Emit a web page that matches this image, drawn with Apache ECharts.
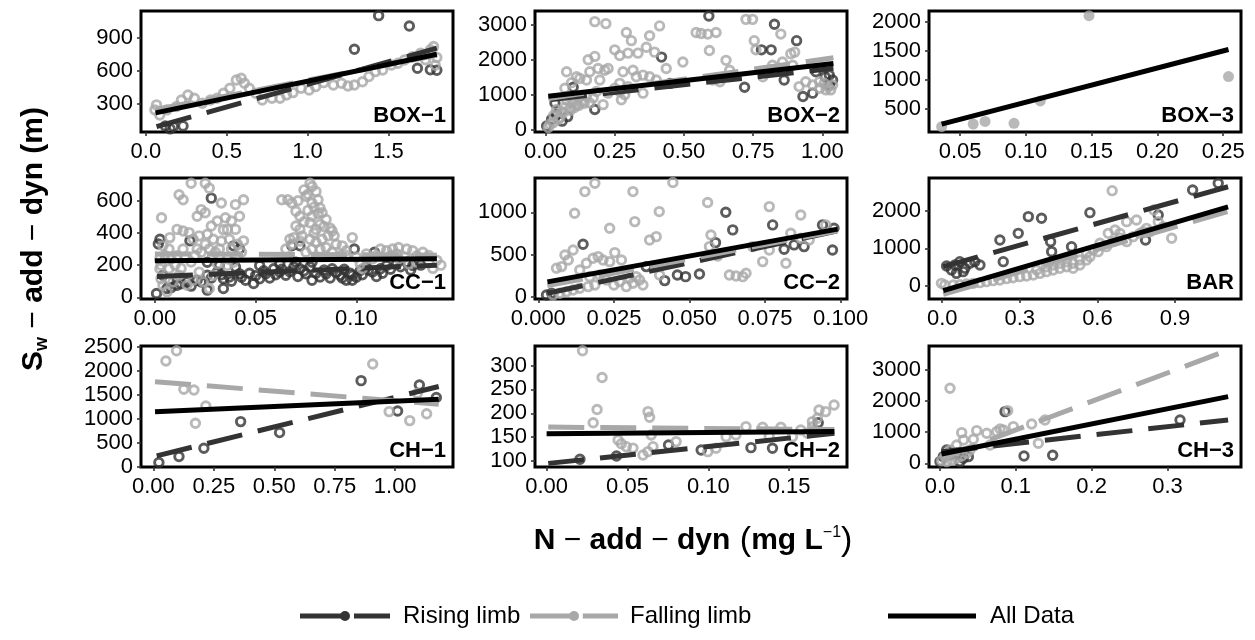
<!DOCTYPE html>
<html>
<head>
<meta charset="utf-8">
<script src="https://cdn.jsdelivr.net/npm/echarts@6/dist/echarts.min.js"></script>
<style>
  html, body { margin: 0; padding: 0; background: #fff; }
  #chart { width: 1255px; height: 640px; }
</style>
</head>
<body>
<div id="chart"></div>
<script>
// ---- panel titles, axis limits and tick labels ----
const panelNames = ['BOX−1', 'BOX−2', 'BOX−3', 'CC−1', 'CC−2', 'BAR', 'CH−1', 'CH−2', 'CH−3'];
const xLimits = [[-0.03, 1.9], [-0.038, 1.089], [0.0264, 0.2635], [-0.0069, 0.148], [-0.0011, 0.1021], [-0.051, 1.155], [-0.051, 1.239], [-0.0072, 0.1858], [-0.0145, 0.397]];
const yLimits = [[47, 1141], [-60, 3398], [107, 2193], [-10, 741], [-28, 1406], [-345, 2867], [-10, 2515], [87.4, 341], [-119, 3772]];
const xTicks = [[0, 0.5, 1.0, 1.5], [0, 0.25, 0.5, 0.75, 1.0], [0.05, 0.10, 0.15, 0.20, 0.25], [0, 0.05, 0.10], [0, 0.025, 0.05, 0.075, 0.1], [0, 0.3, 0.6, 0.9], [0, 0.25, 0.5, 0.75, 1.0], [0, 0.05, 0.10, 0.15], [0, 0.1, 0.2, 0.3]];
const xDigits = [1, 2, 2, 2, 3, 1, 2, 2, 1];
const yTicks = [[300, 600, 900], [0, 1000, 2000, 3000], [500, 1000, 1500, 2000], [0, 200, 400, 600], [0, 500, 1000], [0, 1000, 2000], [0, 500, 1000, 1500, 2000, 2500], [100, 150, 200, 250, 300], [0, 1000, 2000, 3000]];

// ---- observations: [N-add-dyn, Sw-add-dyn] ----
const box1Rising = [[0.12,102],[0.17,96],[0.23,102],[0.15,75],[1.29,795],[1.44,1099],[1.63,1005],[1.68,623],[1.76,610],[1.80,605]];
const box1Falling = [[0.056,247],[0.066,292],[0.086,201],[0.13,247],[0.19,277],[0.22,337],[0.26,382],[0.30,352],[0.35,307],[0.40,337],[0.44,352],[0.48,397],[0.52,442],[0.56,517],[0.59,533],[0.61,488],[0.64,442],[0.68,397],[0.72,337],[0.78,352],[0.83,352],[0.87,382],[0.91,403],[0.96,442],[1.01,427],[1.05,457],[1.10,493],[1.16,472],[1.21,488],[1.25,463],[1.29,472],[1.34,502],[1.38,548],[1.42,593],[1.465,608],[1.52,653],[1.56,668],[1.60,698],[1.65,728],[1.70,760],[1.73,700],[1.76,790],[1.78,820],[1.80,720],[1.79,650]];

const box2Rising = [[0.59,3253],[0.827,3019],[0.907,2550],[0.815,2288],[0.78,2288],[0.419,2081],[0.719,1219],[0.862,1425],[0.93,956],[0.965,1050],[0.977,1660],[1.025,1566],[1.037,1425],[1.025,1285],[1.01,1520],[0.45,1330],[0.178,581],[0.034,769],[0.04,440],[0.1,1219],[0.004,112],[0.022,300],[0.06,250],[0.08,380]];
const box2Falling = [[0.178,3094],[0.218,3038],[0.292,2784],[0.31,2550],[0.376,2690],[0.412,2972],[0.25,2288],[0.268,2128],[0.298,2194],[0.334,2194],[0.364,2363],[0.394,2222],[0.178,2100],[0.154,2006],[0.16,1660],[0.19,1753],[0.214,1706],[0.226,1753],[0.076,1660],[0.112,1519],[0.148,1425],[0.28,1660],[0.316,1706],[0.328,1519],[0.352,1566],[0.376,1519],[0.40,1425],[0.436,1753],[0.496,1941],[0.544,2784],[0.562,2756],[0.586,2738],[0.616,2784],[0.592,2269],[0.652,1988],[0.724,3159],[0.748,3159],[0.754,2550],[0.76,2288],[0.85,2738],[0.856,1941],[0.886,2175],[0.90,2222],[0.893,1847],[0.916,1238],[0.94,1378],[0.965,1285],[0.99,1378],[1.007,1331],[1.02,1238],[1.037,1285],[1.03,1144],[1.013,1144],[0.99,1190],[0.785,1519],[0.81,1706],[0.82,1847],[0.605,1425],[0.63,1378],[0.665,1706],[0.04,581],[0.064,488],[0.088,628],[0.112,722],[0.136,816],[0.16,769],[0.076,863],[0.052,347],[0.028,206],[0.01,66],[0.016,160],[0.124,956],[0.148,956],[0.172,909],[0.184,1097],[0.208,722],[0.226,1050],[0.25,1190],[0.268,1097],[0.286,1003],[0.274,863],[0.298,1238],[0.352,1050],[0.268,1331],[0.07,1190],[0.094,1350],[0.124,1472],[0.196,1425],[0.1,769],[0.082,956],[0.03,420],[0.046,300],[0.058,520],[0.07,640],[0.09,560],[0.105,640],[0.12,700],[0.14,760]];

const box3Points = [[0.036,198],[0.06,244],[0.069,290],[0.091,256],[0.111,642],[0.148,2113],[0.254,1063]];

const cc1Rising = [[0.028,616],[0.0025,361],[0.0017,331],[0.0174,351],[0.039,320],[0.042,300],[0.068,320],[0.072,320],[0.109,280],[0.099,300],[0.0008,24],[0.006,55],[0.011,75],[0.016,96],[0.021,106],[0.026,137],[0.031,157],[0.034,116],[0.037,127],[0.042,147],[0.045,106],[0.049,86],[0.052,116],[0.055,147],[0.059,178],[0.062,157],[0.065,137],[0.069,188],[0.072,178],[0.075,147],[0.078,106],[0.082,127],[0.085,147],[0.088,178],[0.092,137],[0.095,106],[0.098,137],[0.102,167],[0.105,188],[0.108,157],[0.112,178],[0.115,198],[0.12,208],[0.125,218],[0.128,198],[0.052,198],[0.062,208],[0.040,188],[0.026,218],[0.032,198],[0.078,218],[0.07,218],[0.004,137],[0.007,106],[0.034,55],[0.026,45],[0.098,106],[0.093,120],[0.008,60],[0.013,85],[0.018,70],[0.023,95],[0.028,120],[0.033,140],[0.038,100],[0.043,125],[0.047,150],[0.05,135],[0.054,165],[0.057,120],[0.06,140],[0.063,175],[0.067,160],[0.071,130],[0.074,165],[0.077,190],[0.08,150],[0.084,170],[0.087,120],[0.09,155],[0.094,175],[0.097,150],[0.1,125],[0.103,140],[0.106,170],[0.11,130],[0.113,150],[0.117,175],[0.122,190],[0.127,170],[0.132,200]];
const cc1Falling = [[0.0033,494],[0.018,708],[0.025,708],[0.027,678],[0.012,637],[0.014,606],[0.021,504],[0.023,545],[0.025,525],[0.033,586],[0.028,443],[0.031,474],[0.035,494],[0.038,474],[0.042,504],[0.044,606],[0.040,576],[0.040,422],[0.036,422],[0.037,361],[0.044,351],[0.0074,371],[0.011,422],[0.014,412],[0.017,402],[0.019,361],[0.022,382],[0.026,392],[0.029,361],[0.004,320],[0.007,300],[0.011,259],[0.014,300],[0.021,300],[0.0025,239],[0.0025,178],[0.003,116],[0.004,75],[0.006,35],[0.007,178],[0.009,96],[0.012,137],[0.016,75],[0.019,106],[0.022,157],[0.024,96],[0.027,55],[0.029,137],[0.031,208],[0.036,239],[0.039,218],[0.032,300],[0.036,198],[0.063,606],[0.066,606],[0.068,586],[0.070,535],[0.072,504],[0.074,667],[0.077,708],[0.078,688],[0.080,657],[0.075,627],[0.078,586],[0.081,606],[0.082,555],[0.083,525],[0.078,504],[0.077,463],[0.080,422],[0.082,453],[0.085,484],[0.072,422],[0.069,371],[0.073,382],[0.077,361],[0.080,341],[0.083,361],[0.086,382],[0.088,412],[0.089,382],[0.082,300],[0.085,310],[0.078,300],[0.075,280],[0.070,443],[0.067,361],[0.098,371],[0.093,320],[0.095,290],[0.088,280],[0.092,259],[0.112,300],[0.115,290],[0.118,300],[0.121,310],[0.125,300],[0.128,290],[0.13,259],[0.117,259],[0.121,239],[0.105,239],[0.102,208],[0.108,239],[0.126,208],[0.13,218],[0.103,178],[0.133,280],[0.136,260],[0.14,230],[0.142,200],[0.138,180],[0.003,200],[0.005,260],[0.008,240],[0.01,200],[0.013,180],[0.015,250],[0.018,220],[0.02,260],[0.023,280],[0.025,330],[0.027,300],[0.03,280],[0.033,350],[0.034,420],[0.038,300],[0.041,330],[0.043,280],[0.071,600],[0.076,640],[0.079,560],[0.081,520],[0.084,440],[0.087,430],[0.076,540],[0.074,470],[0.079,400],[0.072,350],[0.068,330],[0.065,300],[0.09,330],[0.095,260],[0.1,250],[0.105,270],[0.11,260],[0.12,270],[0.124,250]];

const cc2Rising = [[0.0148,621],[0.0418,190],[0.046,257],[0.0487,237],[0.0533,269],[0.0586,640],[0.062,1000],[0.0643,791],[0.0775,850],[0.0813,561],[0.0846,613],[0.0879,593],[0.094,850],[0.0978,810],[0.0973,553],[0.0027,20],[0.0044,40],[0.0357,356]];
const cc2Falling = [[0.012,988],[0.0154,1245],[0.0187,1344],[0.0313,1245],[0.0445,1352],[0.040,1008],[0.0319,889],[0.0236,810],[0.056,1115],[0.0764,1067],[0.0868,968],[0.0368,672],[0.039,711],[0.0571,731],[0.0566,593],[0.0593,482],[0.0709,593],[0.0764,553],[0.0742,415],[0.0819,395],[0.0835,751],[0.0868,692],[0.0896,672],[0.0951,850],[0.0632,257],[0.0654,245],[0.0676,237],[0.0687,277],[0.0077,356],[0.0099,435],[0.0115,553],[0.0088,494],[0.006,336],[0.0159,395],[0.0181,455],[0.0198,474],[0.0214,435],[0.0236,415],[0.0253,522],[0.0275,435],[0.0137,316],[0.017,237],[0.0203,257],[0.0225,198],[0.025,138],[0.0269,178],[0.0291,119],[0.0313,158],[0.0335,198],[0.0346,138],[0.0324,237],[0.0302,217],[0.0187,138],[0.0165,119],[0.0137,99],[0.0115,79],[0.0093,59],[0.0071,40],[0.0049,20],[0.0401,257]];

const barRising = [[0.017,531],[0.036,425],[0.068,646],[0.049,558],[0.088,469],[0.107,602],[0.126,646],[0.146,558],[0.081,381],[0.055,336],[0.223,1221],[0.236,646],[0.294,1398],[0.333,1841],[0.384,1797],[0.419,1177],[0.423,912],[0.5,1044],[0.571,1947],[0.786,1221],[0.835,1885],[0.968,2549],[1.067,2726]];
const barFalling = [[0.657,2531],[0.818,2018],[0.887,1266],[0.751,1752],[0.713,1708],[0.668,1487],[0.642,1398],[0.687,1398],[0.713,1177],[0.738,1310],[0.764,1398],[0.79,1531],[0.803,1443],[0.61,1133],[0.584,956],[0.558,867],[0.532,690],[0.506,602],[0.481,513],[0.455,469],[0.429,425],[0.403,381],[0.378,336],[0.352,292],[0.326,266],[0.3,248],[0.274,221],[0.249,195],[0.223,159],[0.197,142],[0.171,115],[0.146,89],[0.12,71],[0.094,53],[0.068,35],[0.043,27],[0.01,27],[-0.003,71],[0.532,558],[0.558,690],[0.481,646],[0.455,602],[0.403,513],[0.365,425],[0.506,469],[0.429,558],[0.571,779],[0.603,912],[0.635,1044],[0.661,1177],[0.687,1266],[0.777,1443],[0.835,1708],[0.854,1575]];

const ch1Rising = [[0.023,83],[0.106,208],[0.209,382],[0.361,937],[0.522,708],[0.859,1792],[1.01,1160],[1.1,1701],[1.17,1440]];
const ch1Falling = [[0.052,2201],[0.096,2417],[0.126,1611],[0.168,1597],[0.174,903],[0.217,1264],[0.907,2139],[0.975,1146],[1.06,958],[1.092,1528],[1.13,1100]];

const ch2Rising = [[0.0206,103.5],[0.0432,110.5],[0.0754,133.6],[0.0956,123],[0.1264,128],[0.1397,126.6],[0.168,180]];
const ch2Falling = [[0.0222,331],[0.0343,275],[0.0312,208],[0.0288,180],[0.0442,144],[0.0462,136],[0.0493,130],[0.0534,127],[0.0627,203.5],[0.0637,191.6],[0.0647,154.5],[0.0658,130],[0.0627,119.6],[0.0596,112.6],[0.0801,140.6],[0.0997,119.6],[0.1048,126.6],[0.111,151],[0.1171,154.5],[0.1233,172],[0.1336,170.6],[0.1449,170.6],[0.1572,165],[0.1644,182.5],[0.1675,189.5],[0.1685,207],[0.1726,203.5],[0.1778,217.5],[0.1613,158],[0.1521,151],[0.1377,151],[0.1644,172]];

const ch3Rising = [[0.0858,1661],[0.1108,236],[0.1486,257],[0.3166,1393],[0.0088,429],[0.0044,214],[0.0132,268],[0.022,321],[0.0308,161],[0.0374,214],[0,54],[0.0264,54]];
const ch3Falling = [[0.0132,2411],[0.0893,1693],[0.1385,1393],[0.1209,1264],[0.0967,1179],[0.0792,1104],[0.0616,964],[0.0484,1050],[0.0286,986],[0.1297,643],[0.066,589],[0.044,771],[0.031,750],[0.022,589],[0.0132,429],[0.0066,214],[0.0022,86],[0.0088,54],[0.0154,107],[0.022,161],[0.0286,236],[0.0352,321],[0.0396,429],[0.0748,1018],[0.0836,1071]];

// ---- fitted regression lines: [[x start, y start], [x end, y end]] ----
const risingFits = [[[0.066,96],[1.8,805]], [[0.02,870],[1.04,1760]], null, [[0.001,130],[0.14,200]], [[0.003,40],[0.099,780]], [[0.004,515],[1.105,2635]], [[0.014,222],[1.18,1670]], [[0.001,95],[0.178,158]], [[0.002,370],[0.38,1393]]];
const fallingFits = [[[0.06,250],[1.8,740]], [[0.01,900],[1.04,2060]], null, [[0.0,270],[0.14,262]], [[0.003,130],[0.099,780]], [[0.004,-220],[1.105,1980]], [[0.007,1771],[1.18,1300]], [[0.001,171],[0.178,166]], [[0.002,175],[0.38,3640]]];
const allFits = [[[0.06,220],[1.8,750]], [[0.01,960],[1.04,1900]], [[0.036,244],[0.254,1529]], [[0.0,228],[0.14,240]], [[0.003,175],[0.099,800]], [[0.004,-120],[1.105,2100]], [[0.007,1145],[1.18,1405]], [[0.0,157],[0.178,162]], [[0.002,300],[0.38,2143]]];

const risingPoints = [box1Rising, box2Rising, null, cc1Rising, cc2Rising, barRising, ch1Rising, ch2Rising, ch3Rising];
const fallingPoints = [box1Falling, box2Falling, null, cc1Falling, cc2Falling, barFalling, ch1Falling, ch2Falling, ch3Falling];
const filledPoints = [null, null, box3Points, null, null, null, null, null, null];

// ---- layout & style ----
const COL_LEFT = [141, 535, 929];
const ROW_TOP = [11, 178, 346];
const PANEL_W = 312, PANEL_H = 121;
const DARK = '#333333', LIGHT = '#a8a8a8';
const FONT = '"Liberation Sans", Arial, Helvetica, sans-serif';
const DASH = [36, 16];
const TICK_FONT = 22;

const grids = [], xAxes = [], yAxes = [], series = [], graphics = [];

panelNames.forEach((name, i) => {
  const left = COL_LEFT[i % 3], top = ROW_TOP[Math.floor(i / 3)];
  grids.push({ left, top, width: PANEL_W, height: PANEL_H, show: true, borderColor: '#000', borderWidth: 3, backgroundColor: 'transparent' });
  const tickStyle = { show: true, length: 4, lineStyle: { color: '#333', width: 1.6 } };
  xAxes.push({
    gridIndex: i, type: 'value', min: xLimits[i][0], max: xLimits[i][1],
    axisLine: { show: false, onZero: false },
    axisTick: Object.assign({ customValues: xTicks[i] }, tickStyle),
    axisLabel: { customValues: xTicks[i], formatter: v => Number(v).toFixed(xDigits[i]), color: '#000', fontSize: TICK_FONT, fontFamily: FONT, margin: 9 },
    splitLine: { show: false }
  });
  yAxes.push({
    gridIndex: i, type: 'value', min: yLimits[i][0], max: yLimits[i][1],
    axisLine: { show: false, onZero: false },
    axisTick: Object.assign({ customValues: yTicks[i] }, tickStyle),
    axisLabel: { customValues: yTicks[i], formatter: v => String(v), color: '#000', fontSize: TICK_FONT, fontFamily: FONT, margin: 8 },
    splitLine: { show: false }
  });

  const openCircle = color => ({ color: 'rgba(0,0,0,0)', borderColor: color, borderWidth: 2.9 });
  if (risingPoints[i]) {
    series.push({ type: 'scatter', name: 'Rising limb', xAxisIndex: i, yAxisIndex: i, data: risingPoints[i], symbol: 'circle', symbolSize: 8.5, itemStyle: openCircle(DARK), silent: true });
  }
  if (fallingPoints[i]) {
    series.push({ type: 'scatter', name: 'Falling limb', xAxisIndex: i, yAxisIndex: i, data: fallingPoints[i], symbol: 'circle', symbolSize: 8.5, itemStyle: openCircle(LIGHT), silent: true });
  }
  if (filledPoints[i]) {
    series.push({ type: 'scatter', name: 'Falling limb', xAxisIndex: i, yAxisIndex: i, data: filledPoints[i], symbol: 'circle', symbolSize: 11, itemStyle: { color: LIGHT }, silent: true });
  }
  const fitLine = (data, color, type) => ({
    type: 'line', xAxisIndex: i, yAxisIndex: i, data, showSymbol: false, symbol: 'none', silent: true,
    lineStyle: { color, width: 5, type, cap: 'butt' }
  });
  if (risingFits[i]) series.push(fitLine(risingFits[i], DARK, DASH));
  if (fallingFits[i]) series.push(fitLine(fallingFits[i], LIGHT, DASH));
  if (allFits[i]) series.push(fitLine(allFits[i], '#000', 'solid'));

  // panel label in the lower-right corner
  graphics.push({
    type: 'text', x: left + PANEL_W - 7, y: top + PANEL_H - 5, z: 10,
    style: { text: name, align: 'right', verticalAlign: 'bottom', fill: '#000', font: 'bold 22px ' + FONT }
  });
});

// axis titles
graphics.push({
  type: 'text', x: 34, y: 239, rotation: Math.PI / 2,
  style: {
    text: '{b|S}{sub|w}{n| − }{b|add}{n| − }{b|dyn}{b| (m)}',
    align: 'center', verticalAlign: 'middle', fill: '#000',
    rich: {
      b: { fontSize: 30, fontWeight: 'bold', fontFamily: FONT, fill: '#000' },
      n: { fontSize: 30, fontWeight: 'normal', fontFamily: FONT, fill: '#000' },
      sub: { fontSize: 18, fontWeight: 'bold', fontFamily: FONT, fill: '#000', padding: [16, 0, 0, 0] }
    }
  }
});
graphics.push({
  type: 'text', x: 693, y: 541,
  style: {
    text: '{b|N}{n| − }{b|add}{n| − }{b|dyn}{p| (}{b|mg L}{sup|−1}{p|)}',
    align: 'center', verticalAlign: 'middle', fill: '#000',
    rich: {
      b: { fontSize: 30, fontWeight: 'bold', fontFamily: FONT, fill: '#000' },
      n: { fontSize: 30, fontWeight: 'normal', fontFamily: FONT, fill: '#000' },
      p: { fontSize: 34, fontWeight: 'normal', fontFamily: FONT, fill: '#000' },
      sup: { fontSize: 16, fontWeight: 'normal', fontFamily: FONT, fill: '#000', padding: [0, 0, 16, 0] }
    }
  }
});

// legend
const LEG_Y = 616;
function legendKey(x0, w, color, withPoint) {
  if (withPoint) {
    graphics.push({ type: 'line', shape: { x1: x0, y1: LEG_Y, x2: x0 + w * 0.5, y2: LEG_Y }, style: { stroke: color, lineWidth: 5 } });
    graphics.push({ type: 'line', shape: { x1: x0 + w * 0.6, y1: LEG_Y, x2: x0 + w, y2: LEG_Y }, style: { stroke: color, lineWidth: 5 } });
    graphics.push({ type: 'circle', shape: { cx: x0 + w * 0.5, cy: LEG_Y, r: 5 }, style: { fill: color } });
  } else {
    graphics.push({ type: 'line', shape: { x1: x0, y1: LEG_Y, x2: x0 + w, y2: LEG_Y }, style: { stroke: color, lineWidth: 5 } });
  }
}
function legendText(x, text) {
  graphics.push({ type: 'text', x, y: LEG_Y, style: { text, align: 'left', verticalAlign: 'middle', fill: '#000', font: '24px ' + FONT } });
}
legendKey(300, 90, DARK, true);  legendText(403, 'Rising limb');
legendKey(530, 88, LIGHT, true); legendText(630, 'Falling limb');
legendKey(888, 88, '#000', false); legendText(990, 'All Data');

const chart = echarts.init(document.getElementById('chart'), null, { renderer: 'canvas' });
chart.setOption({
  animation: false,
  backgroundColor: '#fff',
  grid: grids,
  xAxis: xAxes,
  yAxis: yAxes,
  series,
  graphic: graphics
});
</script>
</body>
</html>
